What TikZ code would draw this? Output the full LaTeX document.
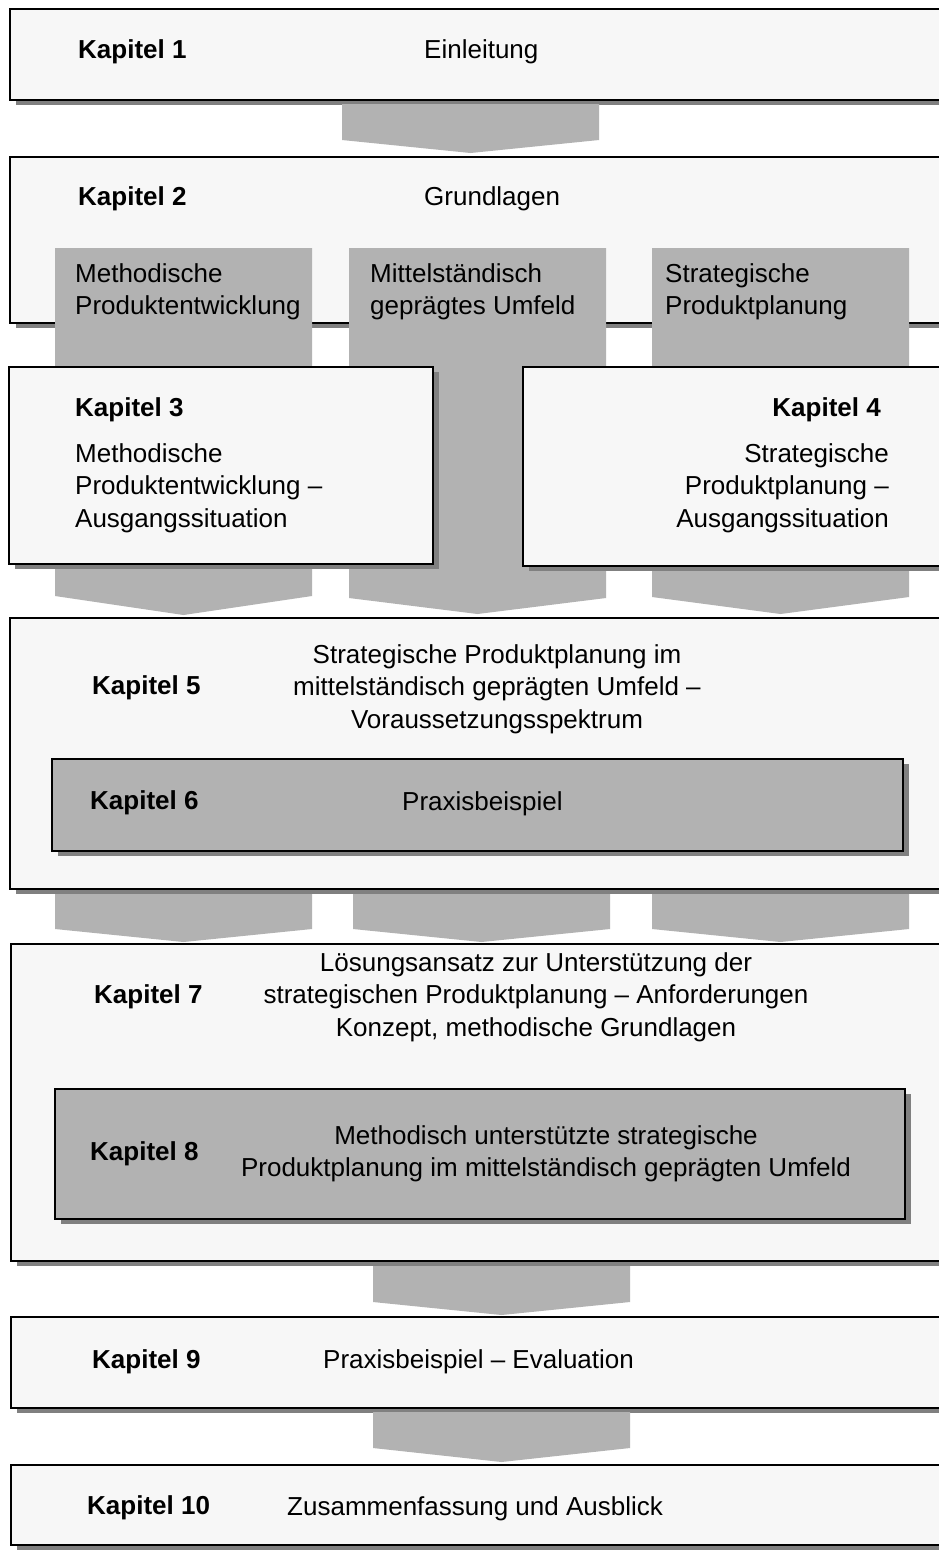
\documentclass[tikz,border=0pt]{standalone}
\usepackage{fontspec}
\setmainfont{Liberation Sans}
\definecolor{boxfill}{HTML}{F7F7F7}
\definecolor{arrowgray}{HTML}{B2B2B2}
\definecolor{shadowgray}{HTML}{808080}
\tikzset{
  boxline/.style={draw=black, line width=2.4pt},
  txt/.style={inner sep=0pt, font=\fontsize{26}{32.5}\selectfont},
  head/.style={txt, font=\fontsize{26}{32.5}\selectfont\bfseries},
}
% framed box with a drop shadow: name, x1, y1, x2, y2, fill colour
\newcommand\chapbox[6]{%
  \fill[shadowgray] (#2+6,#3+5) rectangle (#4+6,#5+5);
  \draw[boxline, fill=#6] (#2,#3) rectangle (#4,#5);
  \coordinate (#1) at ({(#2+#4)/2},{(#3+#5)/2});}
% broad grey chevron: name, x1, x2, top, end of straight part, tip
\newcommand\chevron[6]{%
  \fill[arrowgray] (#2,#4) -- (#3,#4) -- (#3,#5) -- ({(#2+#3)/2},#6) -- (#2,#5) -- cycle;
  \coordinate (#1) at ({(#2+#3)/2},#6);}
\begin{document}
\begin{tikzpicture}[x=1pt, y=-1pt]
\useasboundingbox (0,0) rectangle (938,1551);
\fill[white] (0,0) rectangle (938,1551);

% Chapter 1
\chapbox{b1}{10}{9}{955}{100}{boxfill}
\node[head, anchor=west] (k1) at (78,52) {Kapitel 1};
\node[txt, anchor=west] (t1) at (424,52) {Einleitung};
\chevron{a1}{342}{599}{104}{140}{153}

% Chapter 2 with its three strands
\chapbox{b2}{10}{157}{955}{323}{boxfill}
\node[head, anchor=west] (k2) at (78,199) {Kapitel 2};
\node[txt, anchor=west] (t2) at (424,199) {Grundlagen};
\chevron{c1}{55}{312}{248}{596}{615}
\chevron{c2}{349}{606}{248}{598}{614}
\chevron{c3}{652}{909}{248}{597}{614}
\node[txt, anchor=west, align=left] (s1) at (75,292) {Methodische\\Produktentwicklung};
\node[txt, anchor=west, align=left] (s2) at (370,292) {Mittelständisch\\geprägtes Umfeld};
\node[txt, anchor=west, align=left] (s3) at (665,292) {Strategische\\Produktplanung};

% Chapters 3 and 4
\chapbox{b3}{9}{367}{433}{564}{boxfill}
\node[head, anchor=west] (k3) at (75,410) {Kapitel 3};
\node[txt, anchor=west, align=left] (t3) at (75,488) {Methodische\\Produktentwicklung --\\Ausgangssituation};
\chapbox{b4}{523}{367}{955}{566}{boxfill}
\node[head, anchor=east] (k4) at (881,410) {Kapitel 4};
\node[txt, anchor=east, align=right] (t4) at (889,488) {Strategische\\Produktplanung --\\Ausgangssituation};

% Chapters 5 and 6
\chapbox{b5}{10}{618}{955}{889}{boxfill}
\node[head, anchor=west] (k5) at (92,688) {Kapitel 5};
\node[txt, align=center] (t5) at (497,689) {Strategische Produktplanung im\\mittelständisch geprägten Umfeld --\\Voraussetzungsspektrum};
\chapbox{b6}{52}{759}{903}{851}{arrowgray}
\node[head, anchor=west] (k6) at (90,803) {Kapitel 6};
\node[txt, anchor=west] (t6) at (402,804) {Praxisbeispiel};

\chevron{d1}{55}{312}{894}{929}{942}
\chevron{d2}{353}{610}{894}{929}{942}
\chevron{d3}{652}{909}{894}{929}{942}

% Chapters 7 and 8
\chapbox{b7}{11}{944}{955}{1261}{boxfill}
\node[head, anchor=west] (k7) at (94,997) {Kapitel 7};
\node[txt, align=center] (t7) at (536,997) {Lösungsansatz zur Unterstützung der\\strategischen Produktplanung -- Anforderungen\\Konzept, methodische Grundlagen};
\chapbox{b8}{55}{1089}{905}{1219}{arrowgray}
\node[head, anchor=west] (k8) at (90,1154) {Kapitel 8};
\node[txt, align=center] (t8) at (546,1154) {Methodisch unterstützte strategische\\Produktplanung im mittelständisch geprägten Umfeld};
\chevron{e1}{373}{630}{1266}{1302}{1315}

% Chapter 9
\chapbox{b9}{11}{1317}{955}{1408}{boxfill}
\node[head, anchor=west] (k9) at (92,1362) {Kapitel 9};
\node[txt, anchor=west] (t9) at (323,1362) {Praxisbeispiel -- Evaluation};
\chevron{e2}{373}{630}{1412}{1448}{1462}

% Chapter 10
\chapbox{b10}{11}{1465}{955}{1545}{boxfill}
\node[head, anchor=west] (k10) at (87,1508) {Kapitel 10};
\node[txt, anchor=west] (t10) at (287,1509) {Zusammenfassung und Ausblick};
\end{tikzpicture}
\end{document}
